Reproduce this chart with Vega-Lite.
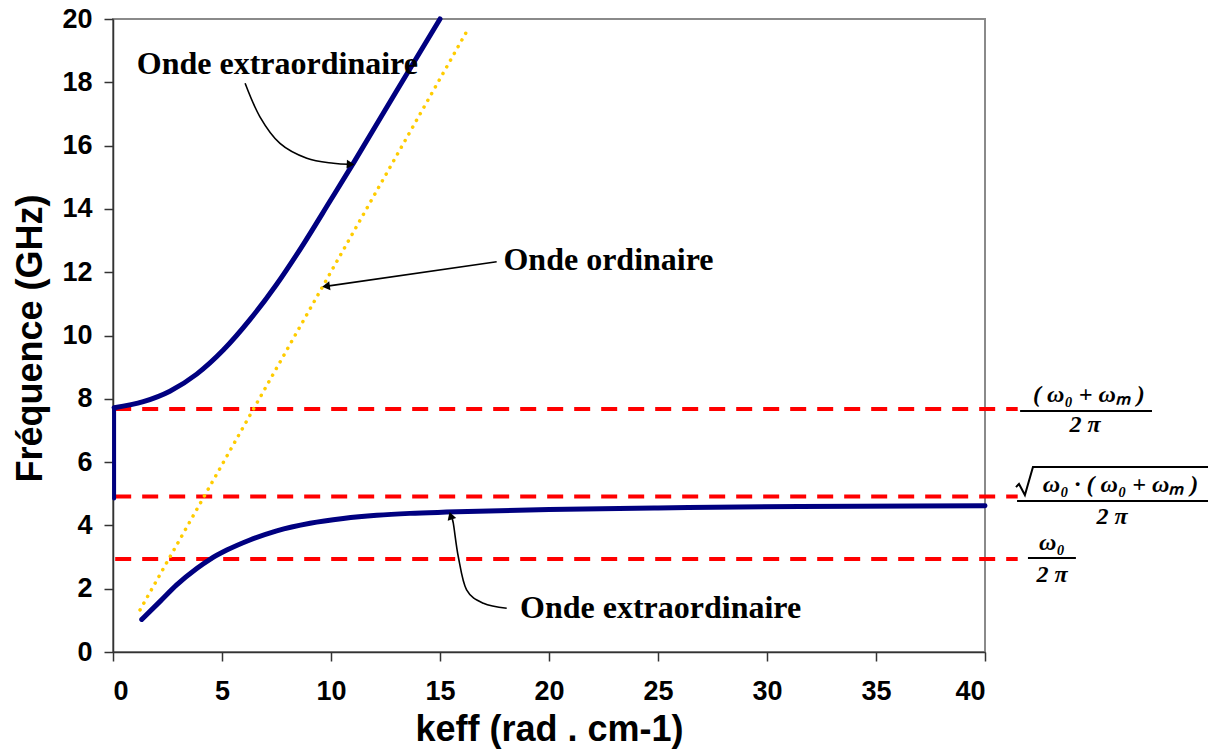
{
  "$schema": "https://vega.github.io/schema/vega-lite/v6.json",
  "width": 872,
  "height": 633,
  "autosize": {"type": "none"},
  "padding": {"left": 113, "top": 19, "right": 229, "bottom": 101},
  "background": "white",
  "config": {
    "view": {"stroke": "#8a8a8a", "strokeWidth": 2},
    "axis": {
      "grid": false,
      "labelFont": "Liberation Sans",
      "labelFontWeight": "bold",
      "labelFontSize": 27,
      "labelColor": "#000000",
      "tickColor": "#333333",
      "tickSize": 9,
      "tickWidth": 1.5,
      "domainColor": "#333333",
      "domainWidth": 1.5,
      "titleFont": "Liberation Sans",
      "titleFontSize": 36,
      "titleFontWeight": "bold",
      "titleColor": "#000000"
    }
  },
  "datasets": {
    "dashed": [
      {"x1": 0.1, "x2": 41.5, "f": 7.68},
      {"x1": 0.1, "x2": 41.5, "f": 4.91},
      {"x1": 0.1, "x2": 41.5, "f": 2.94}
    ],
    "ordinaire": [
      {"k": 1.24, "f": 1.33},
      {"k": 16.22, "f": 19.6}
    ],
    "vertical": [
      {"k": 0.05, "f1": 4.85, "f2": 7.72}
    ],
    "upper": [
      {"k": 0.05, "f": 7.72},
      {"k": 1.39, "f": 7.91},
      {"k": 2.61, "f": 8.24},
      {"k": 3.84, "f": 8.78},
      {"k": 5.06, "f": 9.54},
      {"k": 6.28, "f": 10.5},
      {"k": 7.51, "f": 11.62},
      {"k": 8.73, "f": 12.88},
      {"k": 9.95, "f": 14.24},
      {"k": 11.02, "f": 15.44},
      {"k": 13.0, "f": 17.72},
      {"k": 15.0, "f": 20.0}
    ],
    "lower": [
      {"k": 1.32, "f": 1.03},
      {"k": 2.16, "f": 1.6},
      {"k": 2.92, "f": 2.12},
      {"k": 3.84, "f": 2.64},
      {"k": 4.45, "f": 2.93},
      {"k": 5.22, "f": 3.22},
      {"k": 6.28, "f": 3.54},
      {"k": 7.51, "f": 3.83},
      {"k": 9.04, "f": 4.07},
      {"k": 10.56, "f": 4.22},
      {"k": 12.1, "f": 4.32},
      {"k": 13.62, "f": 4.38},
      {"k": 15.3, "f": 4.42},
      {"k": 20.0, "f": 4.5},
      {"k": 25.0, "f": 4.55},
      {"k": 31.5, "f": 4.6},
      {"k": 40.0, "f": 4.62}
    ],
    "arrows": [
      {"a": "top", "o": 0, "k": 6.06, "f": 17.97},
      {"a": "top", "o": 1, "k": 6.74, "f": 16.91},
      {"a": "top", "o": 2, "k": 7.66, "f": 16.07},
      {"a": "top", "o": 3, "k": 8.89, "f": 15.6},
      {"a": "top", "o": 4, "k": 10.11, "f": 15.44},
      {"a": "top", "o": 5, "k": 10.84, "f": 15.41},
      {"a": "ord", "o": 0, "k": 17.6, "f": 12.33},
      {"a": "ord", "o": 1, "k": 9.83, "f": 11.56},
      {"a": "bot", "o": 0, "k": 18.06, "f": 1.38},
      {"a": "bot", "o": 1, "k": 16.99, "f": 1.54},
      {"a": "bot", "o": 2, "k": 16.22, "f": 1.96},
      {"a": "bot", "o": 3, "k": 15.84, "f": 3.01},
      {"a": "bot", "o": 4, "k": 15.61, "f": 4.07},
      {"a": "bot", "o": 5, "k": 15.51, "f": 4.27}
    ],
    "labels": [
      {"k": 1.09, "f": 18.26, "t": "Onde extraordinaire"},
      {"k": 17.91, "f": 12.07, "t": "Onde ordinaire"},
      {"k": 18.67, "f": 1.06, "t": "Onde extraordinaire"}
    ],
    "bars": [
      {"x1": 41.61, "x2": 47.66, "f": 7.615},
      {"x1": 41.47, "x2": 50.23, "f": 4.77},
      {"x1": 41.97, "x2": 44.17, "f": 2.97}
    ],
    "sqrt": [
      {"o": 0, "k": 41.42, "f": 5.21},
      {"o": 1, "k": 41.56, "f": 5.31},
      {"o": 2, "k": 41.83, "f": 4.96},
      {"o": 3, "k": 42.2, "f": 5.845},
      {"o": 4, "k": 50.23, "f": 5.845}
    ],
    "formulas": [
      {"k": 44.77, "f": 8.12, "t": "( ω₀ + ωₘ )"},
      {"k": 44.59, "f": 7.17, "t": "2 π"},
      {"k": 46.22, "f": 5.28, "t": "ω₀ · ( ω₀ + ωₘ )"},
      {"k": 45.83, "f": 4.27, "t": "2 π"},
      {"k": 43.07, "f": 3.44, "t": "ω₀"},
      {"k": 43.07, "f": 2.43, "t": "2 π"}
    ]
  },
  "layer": [
    {
      "data": {"name": "dashed"},
      "mark": {"type": "rule", "color": "#FF0000", "strokeWidth": 4, "strokeDash": [16, 11]},
      "encoding": {
        "x": {"field": "x1", "type": "quantitative", "scale": {"domain": [0, 40], "nice": false},
              "axis": {"values": [0, 5, 10, 15, 20, 25, 30, 35, 40], "title": "keff (rad . cm-1)", "labelPadding": 17, "titleBaseline": "alphabetic", "titleY": 88}},
        "x2": {"field": "x2"},
        "y": {"field": "f", "type": "quantitative", "scale": {"domain": [0, 20], "nice": false},
              "axis": {"values": [0, 2, 4, 6, 8, 10, 12, 14, 16, 18, 20], "title": "Fréquence (GHz)", "labelPadding": 12, "titleBaseline": "alphabetic", "titleAngle": -90, "titleAlign": "center", "titleX": -72, "titleY": 319}}
      }
    },
    {
      "data": {"name": "ordinaire"},
      "mark": {"type": "line", "color": "#FFCC00", "strokeWidth": 3.5, "strokeDash": [0.1, 7.6], "strokeCap": "round"},
      "encoding": {
        "x": {"field": "k", "type": "quantitative"},
        "y": {"field": "f", "type": "quantitative"}
      }
    },
    {
      "data": {"name": "vertical"},
      "mark": {"type": "rule", "color": "#000080", "strokeWidth": 4, "strokeCap": "round"},
      "encoding": {
        "x": {"field": "k", "type": "quantitative"},
        "y": {"field": "f1", "type": "quantitative"},
        "y2": {"field": "f2"}
      }
    },
    {
      "data": {"name": "upper"},
      "mark": {"type": "line", "color": "#000080", "strokeWidth": 5, "strokeCap": "round", "interpolate": "monotone"},
      "encoding": {
        "x": {"field": "k", "type": "quantitative"},
        "y": {"field": "f", "type": "quantitative"}
      }
    },
    {
      "data": {"name": "lower"},
      "mark": {"type": "line", "color": "#000080", "strokeWidth": 5, "strokeCap": "round", "interpolate": "monotone"},
      "encoding": {
        "x": {"field": "k", "type": "quantitative"},
        "y": {"field": "f", "type": "quantitative"}
      }
    },
    {
      "data": {"name": "arrows"},
      "mark": {"type": "line", "color": "#000000", "strokeWidth": 1.6, "interpolate": "cardinal"},
      "encoding": {
        "x": {"field": "k", "type": "quantitative"},
        "y": {"field": "f", "type": "quantitative"},
        "detail": {"field": "a"},
        "order": {"field": "o"}
      }
    },
    {
      "data": {"values": [{"k": 10.84, "f": 15.41}]},
      "mark": {"type": "point", "shape": "triangle", "angle": 93, "size": 80, "filled": true, "color": "#000000", "opacity": 1},
      "encoding": {
        "x": {"field": "k", "type": "quantitative"},
        "y": {"field": "f", "type": "quantitative"}
      }
    },
    {
      "data": {"values": [{"k": 9.83, "f": 11.56}]},
      "mark": {"type": "point", "shape": "triangle", "angle": 262, "size": 80, "filled": true, "color": "#000000", "opacity": 1},
      "encoding": {
        "x": {"field": "k", "type": "quantitative"},
        "y": {"field": "f", "type": "quantitative"}
      }
    },
    {
      "data": {"values": [{"k": 15.51, "f": 4.27}]},
      "mark": {"type": "point", "shape": "triangle", "angle": 342, "size": 80, "filled": true, "color": "#000000", "opacity": 1},
      "encoding": {
        "x": {"field": "k", "type": "quantitative"},
        "y": {"field": "f", "type": "quantitative"}
      }
    },
    {
      "data": {"name": "labels"},
      "mark": {"type": "text", "font": "Liberation Serif", "fontWeight": "bold", "fontSize": 32, "align": "left", "baseline": "alphabetic", "color": "#000000"},
      "encoding": {
        "x": {"field": "k", "type": "quantitative"},
        "y": {"field": "f", "type": "quantitative"},
        "text": {"field": "t"}
      }
    },
    {
      "data": {"name": "bars"},
      "mark": {"type": "rule", "color": "#000000", "strokeWidth": 2},
      "encoding": {
        "x": {"field": "x1", "type": "quantitative"},
        "x2": {"field": "x2"},
        "y": {"field": "f", "type": "quantitative"}
      }
    },
    {
      "data": {"name": "sqrt"},
      "mark": {"type": "line", "color": "#000000", "strokeWidth": 2},
      "encoding": {
        "x": {"field": "k", "type": "quantitative"},
        "y": {"field": "f", "type": "quantitative"},
        "order": {"field": "o"}
      }
    },
    {
      "data": {"name": "formulas"},
      "mark": {"type": "text", "font": "Liberation Serif", "fontWeight": "bold", "fontStyle": "italic", "fontSize": 24, "align": "center", "baseline": "middle", "color": "#000000"},
      "encoding": {
        "x": {"field": "k", "type": "quantitative"},
        "y": {"field": "f", "type": "quantitative"},
        "text": {"field": "t"}
      }
    }
  ]
}
